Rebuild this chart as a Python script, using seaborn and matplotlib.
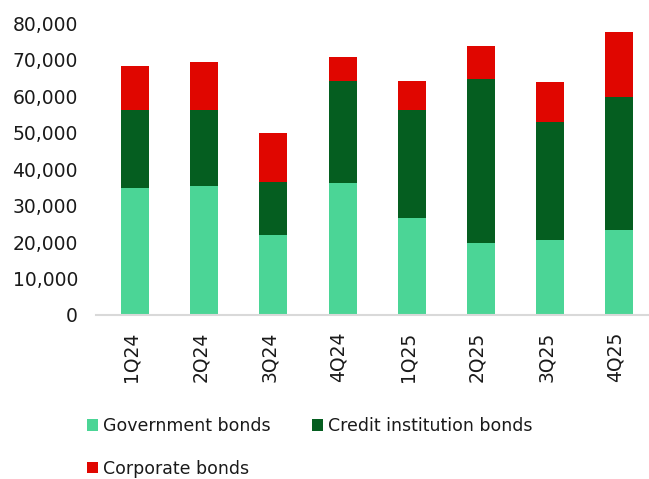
import matplotlib
matplotlib.use("Agg")
import matplotlib.pyplot as plt
import matplotlib.transforms as mtransforms
from matplotlib.patches import Patch
from matplotlib.ticker import FuncFormatter
import numpy as np
import pandas as pd
import seaborn as sns

# Quarterly bond holdings (stacked components)
quarters = ["1Q24", "2Q24", "3Q24", "4Q24", "1Q25", "2Q25", "3Q25", "4Q25"]
government = [34900, 35500, 21900, 36200, 26500, 19700, 20500, 23400]
credit_institution = [21200, 20700, 14500, 28100, 29600, 44900, 32500, 36400]
corporate = [12100, 13200, 13400, 6400, 8100, 9300, 10900, 17800]

series_names = ["Government bonds", "Credit institution bonds", "Corporate bonds"]
colors = ["#4BD596", "#055E20", "#E00600"]

df = pd.DataFrame({
    "quarter": quarters,
    "gov": government,
    "credit": credit_institution,
    "corp": corporate,
})
df["lvl1"] = df["gov"]
df["lvl2"] = df["gov"] + df["credit"]
df["lvl3"] = df["lvl2"] + df["corp"]

sns.set_style("white")
plt.rcParams["font.family"] = ["DejaVu Sans"]
text_color = "#1a1a1a"

W, H = 649, 479
fig = plt.figure(figsize=(W / 100, H / 100), dpi=100)
ax = fig.add_axes([96 / W, (H - 315) / H, 553 / W, (315 - 23.3) / H])

bar_w = 0.405
# Draw cumulative totals from the top layer down so each layer shows as a stack
for col, color in zip(["lvl3", "lvl2", "lvl1"], colors[::-1]):
    sns.barplot(data=df, x="quarter", y=col, color=color, width=bar_w,
                saturation=1, ax=ax, order=quarters, linewidth=0)

ax.set_xlim(-0.564, 7.43)
ax.set_ylim(0, 80000)
ax.set_yticks(np.arange(0, 80001, 10000))
ax.yaxis.set_major_formatter(FuncFormatter(lambda v, p: f"{int(v):,}"))
ax.set_xlabel("")
ax.set_ylabel("")

for side in ["top", "right", "left"]:
    ax.spines[side].set_visible(False)
ax.spines["bottom"].set_color("#d9d9d9")
ax.spines["bottom"].set_linewidth(1.5)

ax.tick_params(axis="y", length=0, pad=13, labelsize=13.5, labelcolor=text_color)
ax.tick_params(axis="x", length=0, pad=12, labelsize=13.5, labelcolor=text_color)
shift = mtransforms.ScaledTranslation(-4 / 100, 0, fig.dpi_scale_trans)
for lbl in ax.get_xticklabels():
    lbl.set_rotation(90)
    lbl.set_va("top")
    lbl.set_ha("center")
    lbl.set_transform(lbl.get_transform() + shift)

# Legend fills column-wise: order so the first row holds government and credit
patches = {n: Patch(facecolor=c, edgecolor="none", label=n)
           for n, c in zip(series_names, colors)}
legend_order = ["Government bonds", "Corporate bonds", "Credit institution bonds"]
fig.legend(handles=[patches[n] for n in legend_order], loc="upper left",
           bbox_to_anchor=(80 / W, 1 - 410 / H), borderaxespad=0,
           ncol=2, frameon=False, fontsize=12.5, handlelength=0.65, handleheight=0.65,
           handletextpad=0.3, columnspacing=2.35, labelspacing=1.42,
           labelcolor=text_color)

fig.savefig("out.png", dpi=100)
